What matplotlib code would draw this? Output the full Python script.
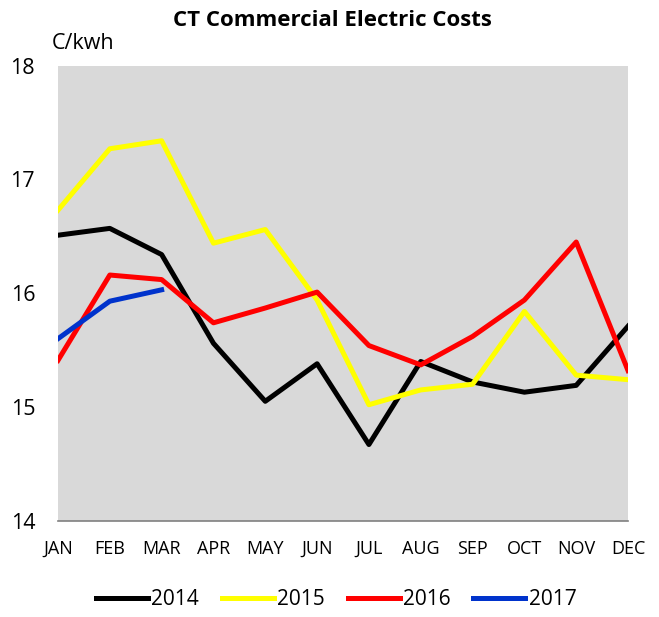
import matplotlib.pyplot as plt

plt.rcParams['font.family'] = ['Open Sans', 'DejaVu Sans']

months = ['JAN', 'FEB', 'MAR', 'APR', 'MAY', 'JUN', 'JUL', 'AUG', 'SEP', 'OCT', 'NOV', 'DEC']
y2014 = [16.51, 16.57, 16.34, 15.56, 15.05, 15.38, 14.67, 15.40, 15.22, 15.13, 15.19, 15.71]
y2015 = [16.73, 17.27, 17.34, 16.44, 16.56, 15.94, 15.02, 15.15, 15.20, 15.84, 15.28, 15.24]
y2016 = [15.41, 16.16, 16.12, 15.74, 15.87, 16.01, 15.54, 15.37, 15.62, 15.94, 16.45, 15.32]
y2017 = [15.60, 15.93, 16.03]

fig = plt.figure(figsize=(6.59, 6.17), dpi=100)
ax = fig.add_axes([0.088, 0.156, 0.865, 0.7375])
ax.set_facecolor('#d9d9d9')

x = list(range(12))
lw = 3.6
ax.plot(x, y2014, color='black', lw=lw, label='2014')
ax.plot(x, y2015, color='#ffff00', lw=lw, label='2015')
ax.plot(x, y2016, color='#ff0000', lw=lw, label='2016')
ax.plot(x[:3], y2017, color='#0033cc', lw=lw, label='2017')

ax.set_xlim(0, 11)
ax.set_ylim(14, 18)
ax.set_xticks(x)
ax.set_xticklabels(months)
ax.set_yticks([14, 15, 16, 17, 18])
ax.tick_params(axis='x', length=0, pad=14, labelsize=13)
ax.tick_params(axis='y', length=0, pad=16.5, labelsize=15.5)
for s in ['top', 'right', 'left']:
    ax.spines[s].set_visible(False)
ax.spines['bottom'].set_color('#808080')
ax.spines['bottom'].set_linewidth(1.2)

fig.text(0.505, 0.967, 'CT Commercial Electric Costs', ha='center', va='center',
         fontsize=16, fontweight='bold')
fig.text(0.079, 0.930, 'C/kwh', ha='left', va='center', fontsize=15.5)

fig.legend(loc='center', bbox_to_anchor=(0.51, 0.0276), ncol=4, frameon=False,
           fontsize=15, handlelength=2.5, handletextpad=0.15, columnspacing=1.1)

plt.savefig('out.png', dpi=100)
